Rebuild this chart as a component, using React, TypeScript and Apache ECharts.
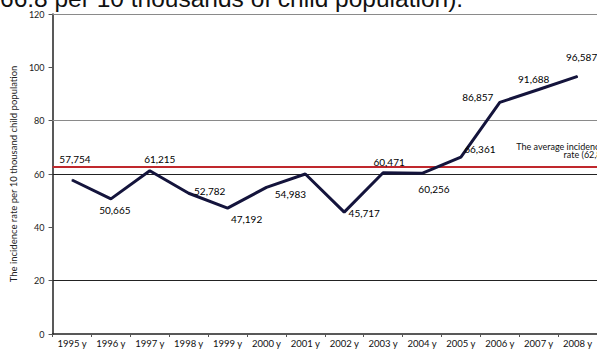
import React, { useEffect, useRef } from "react";
import * as echarts from "echarts";

const years = ["1995 y", "1996 y", "1997 y", "1998 y", "1999 y", "2000 y", "2001 y", "2002 y", "2003 y", "2004 y", "2005 y", "2006 y", "2007 y", "2008 y"];
const incidence = [57.754, 50.665, 61.215, 52.782, 47.192, 54.983, 60.0, 45.717, 60.471, 60.256, 66.361, 86.857, 91.688, 96.587];
const labelled = [true, true, true, true, true, true, false, true, true, true, true, true, true, true];
const averageRate = 62.8;
const gridValuesGray = [120, 80];
const gridValuesDark = [60, 20];
const yTitle = "The incidence rate per 10 thousand child population";
const headerText = "66.8 per 10 thousands of child population).";
const avgText = "The average incidence\nrate (62,8)";

// label offsets (px) relative to each point (layout only)
const labelOffsets: number[][] = [
  [3, -21], [4, 11], [10, -12], [21, -2], [19, 11], [24, 7], [0, 0],
  [20, 1], [6, -11], [12, 16], [19, -8], [-22, -5], [-5, -10], [4, -19],
];

const FONT = "Lato, 'Open Sans', sans-serif";

export default function App() {
  const ref = useRef<HTMLDivElement>(null);
  useEffect(() => {
    if (!ref.current) return;
    const chart = echarts.init(ref.current, null, { renderer: "svg" });
    const fmt = (v: number) => v.toFixed(3).replace(".", ",");
    const seriesData = incidence.map((v, i) => ({
      value: v,
      label: {
        show: labelled[i],
        position: "inside",
        offset: labelOffsets[i],
        formatter: fmt(v),
      },
    }));
    const gridLines = [
      ...gridValuesGray.map((v) => ({ yAxis: v, lineStyle: { color: "#8a8a8a", width: 1.2, type: "solid" } })),
      ...gridValuesDark.map((v) => ({ yAxis: v, lineStyle: { color: "#222", width: 1, type: "solid" } })),
      { yAxis: averageRate, lineStyle: { color: "#c0282d", width: 2, type: "solid" } },
    ];
    chart.setOption({
      animation: false,
      grid: { left: 46, top: 14, bottom: 15, width: 553 },
      graphic: [
        {
          type: "text",
          left: 0,
          top: -14,
          style: { text: headerText, font: "24.5px 'Liberation Sans', Arial, sans-serif", fill: "#111" },
        },
        {
          type: "text",
          x: 604,
          y: 142,
          style: {
            text: avgText,
            font: `9px ${FONT}`,
            fill: "#111",
            align: "right",
            verticalAlign: "top",
            lineHeight: 8,
          },
        },
      ],
      xAxis: {
        type: "category",
        data: years,
        boundaryGap: true,
        axisLine: { lineStyle: { color: "#222", width: 1.5 } },
        axisTick: { show: true, length: 3, lineStyle: { color: "#555" } },
        axisLabel: { color: "#111", fontSize: 9.5, fontFamily: FONT, margin: 4, interval: 0 },
      },
      yAxis: {
        type: "value",
        min: 0,
        max: 120,
        interval: 20,
        name: yTitle,
        nameLocation: "middle",
        nameRotate: 90,
        nameGap: 28,
        nameTextStyle: { color: "#222", fontSize: 9.5, fontFamily: FONT },
        axisLine: { show: true, lineStyle: { color: "#222", width: 1.5 } },
        axisTick: { show: true, length: 4, lineStyle: { color: "#555" } },
        axisLabel: { color: "#222", fontSize: 9, fontFamily: FONT, margin: 8 },
        splitLine: { show: false },
      },
      series: [
        {
          type: "line",
          data: seriesData,
          symbol: "circle",
          symbolSize: 1,
          showSymbol: true,
          lineStyle: { color: "#14143c", width: 3 },
          itemStyle: { color: "#14143c" },
          label: { color: "#000", fontSize: 10, fontFamily: FONT },
          z: 5,
          markLine: {
            silent: true,
            symbol: "none",
            label: { show: false },
            data: gridLines,
            z: 1,
          },
        },
      ],
    });
    return () => chart.dispose();
  }, []);
  return <div ref={ref} style={{ width: 597, height: 349, position: "absolute", left: 0, top: 0 }} />;
}
